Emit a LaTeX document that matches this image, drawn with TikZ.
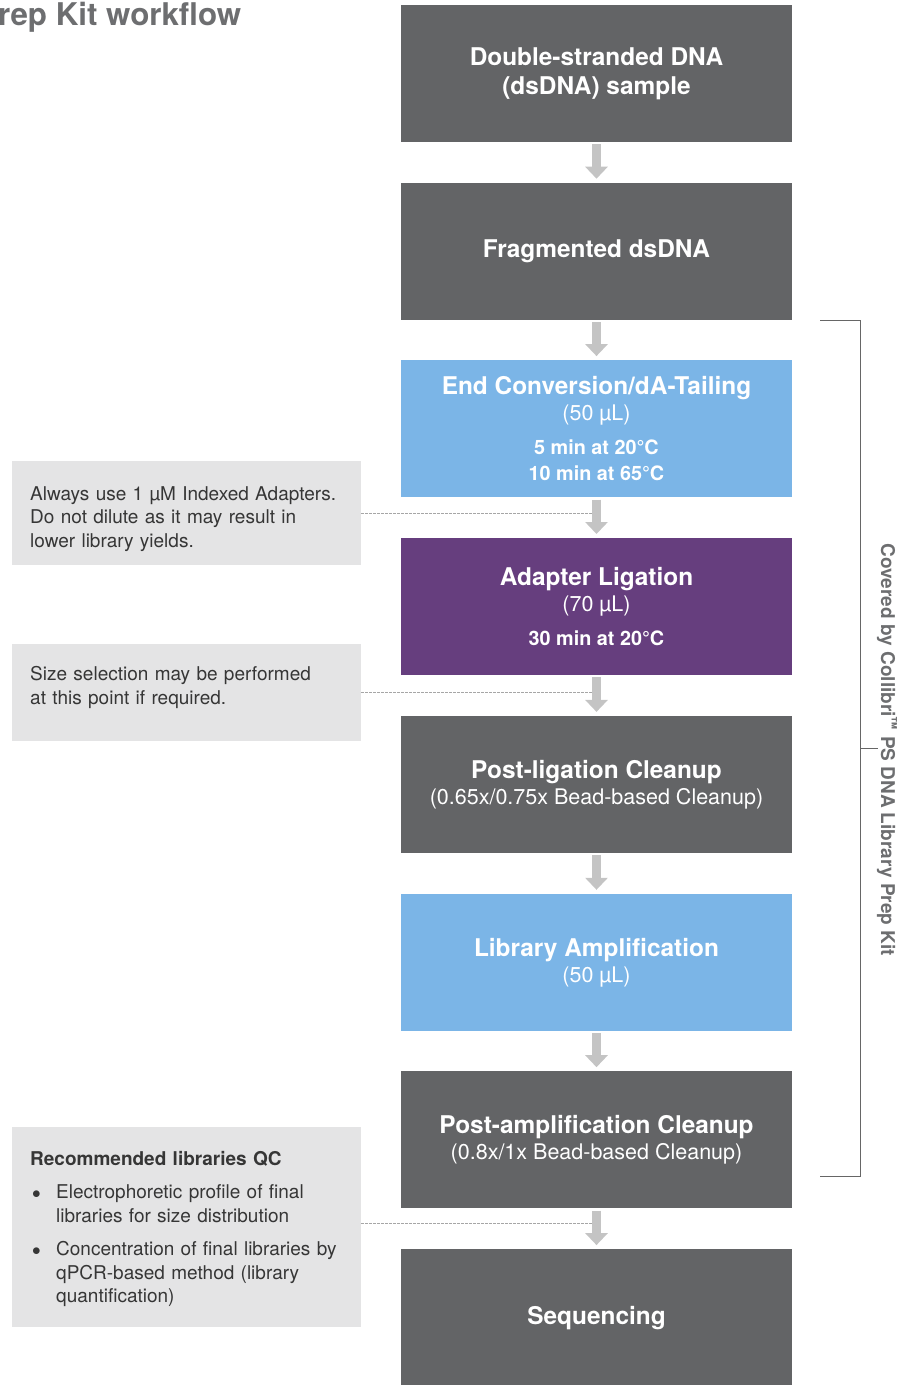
\documentclass[tikz,border=0pt]{standalone}
\usepackage{fontspec}
\setmainfont{TeX Gyre Heros}
\usetikzlibrary{arrows.meta,positioning}

\definecolor{stepgray}{HTML}{636466}
\definecolor{stepblue}{HTML}{7BB5E7}
\definecolor{steppurple}{HTML}{663E7E}
\definecolor{notegray}{HTML}{E4E4E5}
\definecolor{arrowgray}{HTML}{C4C4C4}
\definecolor{textgray}{HTML}{6D6E70}
\definecolor{notetext}{HTML}{363636}

\tikzset{
  stepbox/.style={rectangle, minimum width=391pt, minimum height=137pt,
    inner sep=0pt, text=white, align=center,
    font=\fontsize{24.4}{26}\selectfont\bfseries},
  notebox/.style={rectangle, fill=notegray, minimum height=#1,
    text width=313pt, inner xsep=18pt, inner ysep=0pt, align=left,
    text=notetext, font=\fontsize{19}{23.5}\selectfont},
  flowarrow/.style={draw=arrowgray, line width=9pt,
    -{Triangle[width=22pt,length=12pt]}, shorten <=2pt, shorten >=4pt},
  dashlink/.style={draw=gray!70, line width=0.8pt, dash pattern=on 2.5pt off 1.5pt},
}
\newcommand{\stepsub}[1]{{\fontsize{21.5}{26}\selectfont\mdseries #1}}
\newcommand{\steptime}[1]{{\fontsize{19.8}{23}\selectfont #1}}
\newcommand{\notebullet}{\hspace*{2pt}\makebox[24pt][l]{$\bullet$}}

\begin{document}
\begin{tikzpicture}[x=1pt,y=1pt]
    \useasboundingbox (0,0) rectangle (901,-1385);

    % title, cut at the left edge
    \node[anchor=west, inner sep=0pt, text=textgray,
          font=\fontsize{31.3}{34}\selectfont\bfseries] (title) at (-2,-17) {rep Kit workflow};

    % workflow steps
    \node[stepbox, fill=stepgray] (dsdna) at (596.5,-73.5)
        {Double-stranded DNA\\[3pt](dsDNA) sample};
    \node[stepbox, fill=stepgray, below=40.5pt of dsdna] (frag) {Fragmented dsDNA};
    \node[stepbox, fill=stepblue, below=40pt of frag] (endconv)
        {End Conversion/dA-Tailing\\\stepsub{(50 µL)}\\[8pt]\steptime{5 min at 20°C}\\\steptime{10 min at 65°C}};
    \node[stepbox, fill=steppurple, below=40.5pt of endconv] (ligation)
        {Adapter Ligation\\\stepsub{(70 µL)}\\[8pt]\steptime{30 min at 20°C}};
    \node[stepbox, fill=stepgray, below=40.5pt of ligation] (postlig)
        {Post-ligation Cleanup\\\stepsub{(0.65x/0.75x Bead-based Cleanup)}};
    \node[stepbox, fill=stepblue, below=40.5pt of postlig] (amplif)
        {Library Amplification\\\stepsub{(50 µL)}};
    \node[stepbox, fill=stepgray, below=40pt of amplif] (postamp)
        {Post-amplification Cleanup\\\stepsub{(0.8x/1x Bead-based Cleanup)}};
    \node[stepbox, fill=stepgray, below=40.5pt of postamp] (seq) {Sequencing};

    % side notes
    \node[notebox=104pt, anchor=north west] (noteadapt) at (12,-461)
        {\rule{0pt}{25pt}Always use 1 µM Indexed Adapters.\\Do not dilute as it may result in\\lower library yields.};
    \node[notebox=97pt, anchor=north west] (notesize) at (12,-644)
        {Size selection may be performed\\at this point if required.\rule[-15pt]{0pt}{15pt}};
    \node[notebox=200pt, anchor=north west] (noteqc) at (12,-1127)
        {\rule{0pt}{18pt}\textbf{Recommended libraries QC}\\[10pt]
         \notebullet Electrophoretic profile of final\\
         \hspace*{26pt}libraries for size distribution\\[10pt]
         \notebullet Concentration of final libraries by\\
         \hspace*{26pt}qPCR-based method (library\\
         \hspace*{26pt}quantification)};

    \draw[dashlink] (noteadapt.east) -- (noteadapt.east -| endconv.south);
    \draw[dashlink] (notesize.east) -- (notesize.east -| ligation.south);
    \draw[dashlink] ([yshift=4pt]noteqc.east) -- ([yshift=4pt]noteqc.east -| postamp.south);

    % arrows between steps
    \draw[flowarrow] (dsdna) -- (frag);
    \draw[flowarrow] (frag) -- (endconv);
    \draw[flowarrow] (endconv) -- (ligation);
    \draw[flowarrow] (ligation) -- (postlig);
    \draw[flowarrow] (postlig) -- (amplif);
    \draw[flowarrow] (amplif) -- (postamp);
    \draw[flowarrow] (postamp) -- (seq);

    % kit bracket
    \coordinate (brtop) at (820,-320);
    \coordinate (brbot) at (820,-1176);
    \coordinate (brmid) at (860,-748);
    \draw[gray!80!black, line width=1pt] (brtop) -| (brbot -| brmid) -- (brbot);
    \draw[gray!80!black, line width=1pt] (brmid) -- ++(18,0);
    \node[rotate=-90, text=textgray, font=\fontsize{19}{20}\selectfont\bfseries]
        (kitlabel) at (887,-750) {Covered by Collibri\textsuperscript{™} PS DNA Library Prep Kit};
\end{tikzpicture}
\end{document}
